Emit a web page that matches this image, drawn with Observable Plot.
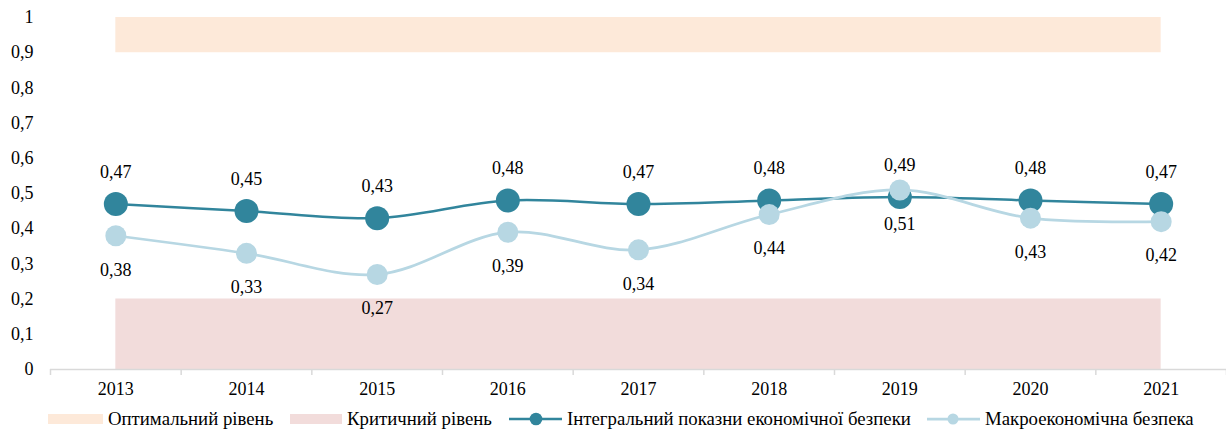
<!DOCTYPE html>
<html>
<head>
<meta charset="utf-8">
<script src="https://cdn.jsdelivr.net/npm/d3@7"></script>
<script src="https://cdn.jsdelivr.net/npm/@observablehq/plot@0.6"></script>
<style>
  body { margin: 0; background: #fff; font-family: "Liberation Serif", "Times New Roman", serif; }
  #legend { position: relative; height: 26px; font-size: 18.8px; line-height: 20px; color: #000; }
  .item { position: absolute; top: 5px; display: flex; align-items: center; white-space: nowrap; }
  .sw { display: inline-block; height: 10px; margin-right: 5px; }
</style>
</head>
<body>
<div id="chart"></div>
<div id="legend"></div>
<script>
const years = [2013, 2014, 2015, 2016, 2017, 2018, 2019, 2020, 2021];
const integral = [0.47, 0.45, 0.43, 0.48, 0.47, 0.48, 0.49, 0.48, 0.47];
const macro = [0.38, 0.33, 0.27, 0.39, 0.34, 0.44, 0.51, 0.43, 0.42];
const optimalRange = [0.9, 1];
const criticalRange = [0, 0.2];
const yTicks = [0, 0.1, 0.2, 0.3, 0.4, 0.5, 0.6, 0.7, 0.8, 0.9, 1];
const seriesNames = ["Оптимальний рівень", "Критичний рівень", "Інтегральний показни економічної безпеки", "Макроекономічна безпека"];

const colors = { optimal: "#FDE9D9", critical: "#F2DCDB", integral: "#31859C", macro: "#B7D7E3" };
const fmt = d => String(d).replace(".", ",");
const boundaries = [years[0] - 0.5, ...years.map(y => y + 0.5)];

const intData = years.map((y, i) => ({ year: y, v: integral[i] }));
const macData = years.map((y, i) => ({ year: y, v: macro[i] }));

const chart = Plot.plot({
  width: 1226,
  height: 404,
  marginTop: 17,
  marginBottom: 35,
  marginLeft: 50,
  marginRight: 0,
  style: { fontFamily: "'Liberation Serif', 'Times New Roman', serif", fontSize: "18px", color: "#000", background: "#fff" },
  x: { type: "linear", domain: [years[0] - 0.5, years[years.length - 1] + 0.5], label: null },
  y: { domain: [0, 1], label: null },
  marks: [
    Plot.areaY(years, { x: d => d, y1: optimalRange[0], y2: optimalRange[1], fill: colors.optimal }),
    Plot.areaY(years, { x: d => d, y1: criticalRange[0], y2: criticalRange[1], fill: colors.critical }),
    Plot.ruleY([0], { stroke: "#D9D9D9", strokeWidth: 1.5 }),
    Plot.axisX({ ticks: boundaries, tickSize: 6, tickFormat: null, stroke: "#D9D9D9", strokeWidth: 1.5, text: null, label: null }),
    Plot.axisX({ ticks: years, tickSize: 0, tickPadding: 13, tickFormat: d => String(d), fontSize: 18, label: null }),
    Plot.axisY({ ticks: yTicks, tickSize: 0, tickPadding: 17, tickFormat: fmt, fontSize: 18, label: null }),
    Plot.line(intData, { x: "year", y: "v", stroke: colors.integral, strokeWidth: 2.5, curve: "catmull-rom" }),
    Plot.dot(intData, { x: "year", y: "v", r: 12, fill: colors.integral }),
    Plot.line(macData, { x: "year", y: "v", stroke: colors.macro, strokeWidth: 2.75, curve: "catmull-rom" }),
    Plot.dot(macData, { x: "year", y: "v", r: 10.5, fill: colors.macro }),
    Plot.text(intData, { x: "year", y: "v", text: d => fmt(d.v), dy: -32, fontSize: 18, fill: "#000" }),
    Plot.text(macData, { x: "year", y: "v", text: d => fmt(d.v), dy: 34, fontSize: 18, fill: "#000" })
  ]
});
document.getElementById("chart").appendChild(chart);

const legend = document.getElementById("legend");
const items = [
  { left: 48, html: `<span class="sw" style="width:55px;background:${colors.optimal}"></span>` },
  { left: 290, html: `<span class="sw" style="width:52px;background:${colors.critical}"></span>` },
  { left: 509, html: `<svg width="53" height="14" style="margin-right:5px"><line x1="0" y1="7" x2="53" y2="7" stroke="${colors.integral}" stroke-width="2.5"/><circle cx="27" cy="7" r="6.3" fill="${colors.integral}"/></svg>` },
  { left: 927, html: `<svg width="53" height="14" style="margin-right:5px"><line x1="0" y1="7" x2="53" y2="7" stroke="${colors.macro}" stroke-width="2.75"/><circle cx="26" cy="7" r="5.5" fill="${colors.macro}"/></svg>` }
];
items.forEach((it, i) => {
  const div = document.createElement("div");
  div.className = "item";
  div.style.left = it.left + "px";
  div.innerHTML = it.html + `<span>${seriesNames[i]}</span>`;
  legend.appendChild(div);
});
</script>
</body>
</html>
